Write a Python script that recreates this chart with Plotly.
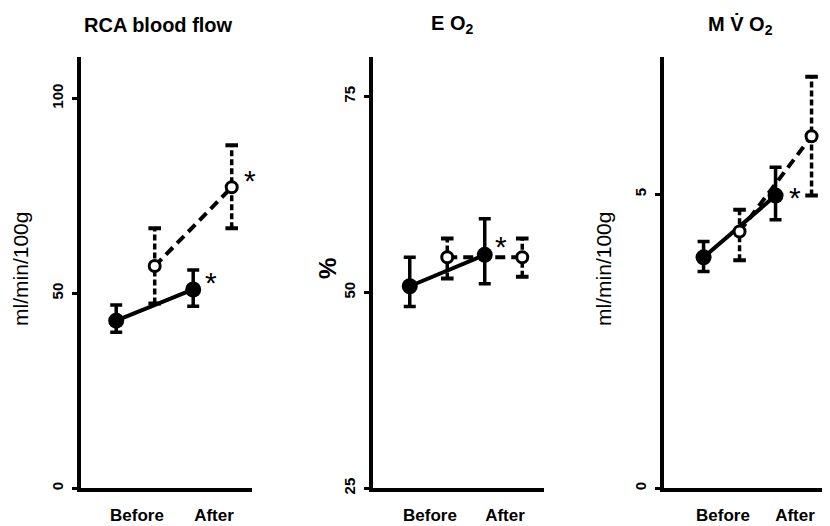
import plotly.graph_objects as go

# ---------------- data ----------------
categories = ["Before", "After"]

titles = ["RCA blood flow", "E O<sub>2</sub>", "M V\u0307 O<sub>2</sub>"]
y_titles = ["ml/min/100g", "%", "ml/min/100g"]
y_ranges = [[0, 110.5], [25, 80], [0, 7.33]]
y_tickvals = [[0, 50, 100], [25, 50, 75], [0, 5]]

# RCA blood flow
rca_filled = [43.0, 51.0]
rca_filled_hi = [47.0, 56.0]
rca_filled_lo = [40.0, 46.7]
rca_open = [57.0, 77.2]
rca_open_hi = [66.7, 88.0]
rca_open_lo = [47.4, 66.7]

# EO2
eo2_filled = [50.8, 54.8]
eo2_filled_hi = [54.5, 59.4]
eo2_filled_lo = [48.2, 51.1]
eo2_open = [54.5, 54.5]
eo2_open_hi = [56.9, 56.9]
eo2_open_lo = [51.8, 52.0]

# MVO2
mvo2_filled = [3.93, 4.98]
mvo2_filled_hi = [4.20, 5.46]
mvo2_filled_lo = [3.69, 4.57]
mvo2_open = [4.37, 5.99]
mvo2_open_hi = [4.74, 7.00]
mvo2_open_lo = [3.88, 4.98]

# significance markers (index of points with *)
filled_sig = [[1], [1], [1]]
open_sig = [[1], [], [1]]

panels = [
    (rca_filled, rca_filled_hi, rca_filled_lo, rca_open, rca_open_hi, rca_open_lo),
    (eo2_filled, eo2_filled_hi, eo2_filled_lo, eo2_open, eo2_open_hi, eo2_open_lo),
    (mvo2_filled, mvo2_filled_hi, mvo2_filled_lo, mvo2_open, mvo2_open_hi, mvo2_open_lo),
]

# ---------------- layout/styling ----------------
OFF = 8  # page body margin
W, H = 830 - OFF, 526 - OFF
FONT = "Liberation Sans, Arial, sans-serif"


def fx(px):
    return (px - OFF) / W


def fy(py):
    return (H - (py - OFF)) / H


# panel geometry in page pixels: axis left, axis right, "Before" position, px per category
x_geo = [(81, 252, 137, 77), (373, 544, 430, 75), (664, 830, 723, 72)]
y_top_px, y_bot_px = 58, 494
y_dom = [fy(y_bot_px), fy(y_top_px)]
FILLED_OFF = -0.27
OPEN_OFF = 0.23
title_x_px = [158, 452, 740]
ytitle_x_px = [21, 328, 604]
ast_filled_shift = [(18, 7), (16, 8), (19, -2)]
ast_open_shift = [(18, 7), (0, 0), (16, 9)]

fig = go.Figure()
layout = dict(
    width=W, height=H, margin=dict(l=0, r=0, t=0, b=0),
    paper_bgcolor="white", plot_bgcolor="white", showlegend=False,
    font=dict(family=FONT, color="black"),
)
annotations = []

for i, (fm, fh, fl, om, oh, ol) in enumerate(panels):
    xa = "x" if i == 0 else f"x{i+1}"
    ya = "y" if i == 0 else f"y{i+1}"
    xf = [k + FILLED_OFF for k in range(len(categories))]
    xo = [k + OPEN_OFF for k in range(len(categories))]

    # dashed error bars for open circles
    ex, ey = [], []
    for x, lo, hi in zip(xo, ol, oh):
        ex += [x, x, None]
        ey += [lo, hi, None]
    fig.add_trace(go.Scatter(x=ex, y=ey, mode="lines", xaxis=xa, yaxis=ya,
                             line=dict(color="black", width=3.5, dash="6px,3px"),
                             hoverinfo="skip"))
    fig.add_trace(go.Scatter(x=xo + xo, y=oh + ol, mode="markers", xaxis=xa, yaxis=ya,
                             marker=dict(symbol="line-ew", size=9,
                                         line=dict(color="black", width=4)),
                             hoverinfo="skip"))
    # open-circle series (dashed connection)
    fig.add_trace(go.Scatter(x=xo, y=om, mode="lines", xaxis=xa, yaxis=ya,
                             line=dict(color="black", width=4, dash="10px,6px")))
    # filled series
    fig.add_trace(go.Scatter(
        x=xf, y=fm, mode="lines+markers", xaxis=xa, yaxis=ya,
        line=dict(color="black", width=4),
        marker=dict(symbol="circle", size=16, color="black"),
        error_y=dict(type="data", symmetric=False,
                     array=[h - m for h, m in zip(fh, fm)],
                     arrayminus=[m - l for m, l in zip(fm, fl)],
                     color="black", thickness=3.5, width=6),
    ))
    # open markers on top
    fig.add_trace(go.Scatter(x=xo, y=om, mode="markers", xaxis=xa, yaxis=ya,
                             marker=dict(symbol="circle", size=11, color="white",
                                         line=dict(color="black", width=3))))

    for k in filled_sig[i]:
        sx, sy = ast_filled_shift[i]
        annotations.append(dict(x=xf[k], y=fm[k], xref=xa, yref=ya, text="*",
                                showarrow=False, xshift=sx, yshift=sy,
                                xanchor="center", yanchor="middle",
                                font=dict(size=30, family=FONT, color="black")))
    for k in open_sig[i]:
        sx, sy = ast_open_shift[i]
        annotations.append(dict(x=xo[k], y=om[k], xref=xa, yref=ya, text="*",
                                showarrow=False, xshift=sx, yshift=sy,
                                xanchor="center", yanchor="middle",
                                font=dict(size=30, family=FONT, color="black")))

    L, R, B, U = x_geo[i]
    xkey = "xaxis" if i == 0 else f"xaxis{i+1}"
    ykey = "yaxis" if i == 0 else f"yaxis{i+1}"
    layout[xkey] = dict(
        domain=[fx(L), min(fx(R), 1.0)], range=[(L - B) / U, (R - B) / U],
        anchor=ya, showgrid=False, zeroline=False, showline=True,
        linecolor="black", linewidth=4,
        tickvals=list(range(len(categories))), ticktext=categories,
        ticks="", ticklabelstandoff=8,
        tickfont=dict(size=17, family=FONT, color="black", weight="bold"),
    )
    layout[ykey] = dict(
        domain=y_dom, range=y_ranges[i], anchor=xa,
        showgrid=False, zeroline=False, showline=True,
        linecolor="black", linewidth=4,
        tickvals=y_tickvals[i], ticks="outside", ticklen=5, tickwidth=3,
        tickcolor="black", tickangle=-90, ticklabelstandoff=3,
        tickfont=dict(size=15, family=FONT, color="black", weight="bold"),
    )
    annotations.append(dict(x=fx(title_x_px[i]), y=fy(25), xref="paper", yref="paper",
                            text=titles[i], showarrow=False,
                            xanchor="center", yanchor="middle",
                            font=dict(size=20, family=FONT, color="black", weight="bold")))
    annotations.append(dict(x=fx(ytitle_x_px[i]), y=fy(272), xref="paper", yref="paper",
                            text=y_titles[i], showarrow=False, textangle=-90,
                            xanchor="center", yanchor="middle",
                            font=dict(size=21 if i != 1 else 24, family=FONT, color="black",
                                      weight="normal" if i != 1 else "bold")))

layout["annotations"] = annotations
fig.update_layout(**layout)
fig.write_html("out.html")
